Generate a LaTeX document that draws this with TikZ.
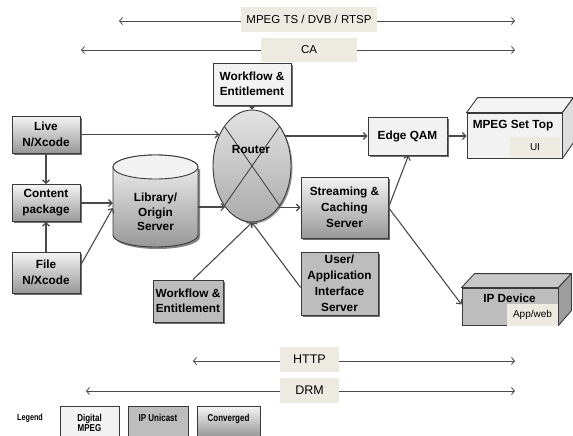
\documentclass[tikz,border=0pt]{standalone}
\usepackage{fontspec}
\setmainfont{Liberation Sans}
\newfontfamily\narrowfont{Liberation Sans}[FakeStretch=0.8]
\usetikzlibrary{shapes.geometric,shadows,arrows.meta}
\definecolor{bd}{HTML}{3A3A3A}
\definecolor{ln}{HTML}{4A4A4A}
\definecolor{lightf}{HTML}{F2F2F2}
\definecolor{midf}{HTML}{BDBDBD}
\definecolor{convtop}{HTML}{F4F4F4}
\definecolor{convbot}{HTML}{989898}
\definecolor{labf}{HTML}{EDEBE1}
\definecolor{routtop}{HTML}{E2E2E2}
\definecolor{routbot}{HTML}{ABABAB}
\begin{document}
\begin{tikzpicture}[x=1pt,y=-1pt,
  sz/.style 2 args={minimum width=#1pt,minimum height=#2pt},
  box/.style={draw=bd,line width=0.9pt,align=center,inner sep=1pt,
    font=\bfseries\fontsize{11.8}{16}\selectfont,
    drop shadow={shadow xshift=1.8pt,shadow yshift=-1.8pt,fill=black!80,opacity=0.7}},
  digital/.style={box,fill=lightf},
  unicast/.style={box,fill=midf},
  conv/.style={box,top color=convtop,bottom color=convbot},
  arr/.style={draw=ln,line width=1.1pt,-{Straight Barb[length=3.5pt,width=7pt]}},
  proto/.style={draw=ln,line width=0.8pt,{Straight Barb[length=3pt,width=7pt]}-{Straight Barb[length=3pt,width=7pt]}},
  plabel/.style={fill=labf,inner sep=0pt,font=\fontsize{11.5}{13}\selectfont},
  txt/.style={inner sep=0pt,font=\bfseries\fontsize{11.8}{14.5}\selectfont},
  legbox/.style={draw=bd,line width=0.7pt,align=center,anchor=north,inner sep=0pt,
    font=\narrowfont\bfseries\fontsize{10}{10.5}\selectfont,text depth=0pt}
]
\useasboundingbox[fill=white] (0,0) rectangle (573,436);

% protocol bands
\coordinate (m1) at (119,21); \coordinate (m2) at (515,21);
\draw[proto] (m1) -- (m2);
\node[plabel,sz={136}{25}] (mpeg) at (309,19.5) {MPEG TS / DVB / RTSP};
\coordinate (c1) at (81,50); \coordinate (c2) at (515,50);
\draw[proto] (c1) -- (c2);
\node[plabel,sz={96}{24}] (ca) at (309,50) {CA};
\coordinate (h1) at (193,361); \coordinate (h2) at (515,361);
\draw[proto] (h1) -- (h2);
\node[plabel,sz={59}{25},font=\fontsize{12.5}{14}\selectfont] (http) at (309.5,359.5) {HTTP};
\coordinate (d1) at (86,391); \coordinate (d2) at (515,391);
\draw[proto] (d1) -- (d2);
\node[plabel,sz={59}{25},font=\fontsize{12.5}{14}\selectfont] (drm) at (309.5,390.5) {DRM};

% boxes
\node[digital,sz={78}{42},font=\bfseries\fontsize{11.8}{15}\selectfont] (wft) at (252,84) {Workflow \&\\Entitlement};
\node[conv,sz={68}{37}] (live) at (46,134.5) {Live\\N/Xcode};
\node[conv,sz={68}{37}] (content) at (46,203) {Content\\package};
\node[conv,sz={68}{41}] (file) at (46,272.5) {File\\N/Xcode};

% library cylinder
\node[sz={85}{92},inner sep=0pt] (lib) at (155.5,201) {};
\fill[black!80,opacity=0.6] (115,169) -- (115,237) arc[start angle=180,end angle=360,x radius=42.5pt,y radius=12pt] -- (200,169) -- cycle;
\shade[top color=convtop,bottom color=convbot,draw=bd,line width=0.9pt]
  (113,167) -- (113,235) arc[start angle=180,end angle=360,x radius=42.5pt,y radius=12pt]
  -- (198,167) arc[start angle=0,end angle=180,x radius=42.5pt,y radius=12pt] -- cycle;
\draw[bd,line width=0.9pt,fill=lightf] (155.5,167) ellipse[x radius=42.5pt,y radius=12pt];
\node[txt,align=center] (libtext) at (155.5,212) {Library/\\Origin\\Server};

% router
\node[ellipse,draw=bd,line width=0.9pt,minimum width=78pt,minimum height=112pt,inner sep=0pt,
  top color=routtop,bottom color=routbot,
  drop shadow={shadow xshift=1.5pt,shadow yshift=-1.5pt,fill=black!80,opacity=0.5}] (router) at (252,166) {};
\draw[bd,line width=0.8pt] (router.north west) -- (router.south east)
  (router.north east) -- (router.south west);
\node[txt] (routertext) at (251,149) {Router};

\node[unicast,sz={70}{42},font=\bfseries\fontsize{11.8}{15}\selectfont] (wfb) at (188,301) {Workflow \&\\Entitlement};
\node[digital,sz={79}{38}] (edge) at (407.5,136) {Edge QAM};
\node[conv,sz={87}{61}] (stream) at (344.5,207.5) {Streaming \&\\Caching\\Server};
\node[unicast,sz={77}{63}] (user) at (339.5,283.5) {User/\\Application\\Interface\\Server};

% set top (3D)
\node[draw=bd,fill=lightf,line width=0.9pt,sz={95}{45},inner sep=0pt] (settop) at (514.5,135.5) {};
\filldraw[draw=bd,line width=0.9pt,fill=white!96!black,line join=round]
  (settop.north west) -- ++(11,-15) -- ++(95,0) -- ([xshift=11pt,yshift=15pt]settop.north east) -- (settop.north east) -- cycle;
\filldraw[draw=bd,line width=0.9pt,fill=black!13,line join=round]
  (settop.north east) -- ++(11,-15) -- ++(0,45) -- (settop.south east) -- cycle;
\node[txt] (settoptext) at (513,126) {MPEG Set Top};
\node[plabel,sz={50}{20},font=\fontsize{10}{12}\selectfont] (ui) at (535,147) {UI};

% IP device (3D)
\node[draw=bd,fill=midf,line width=0.9pt,sz={96}{37},inner sep=0pt] (ipdev) at (510,306.5) {};
\filldraw[draw=bd,line width=0.9pt,fill=black!22,line join=round]
  (ipdev.north west) -- ++(13,-14) -- ++(96,0) -- ([xshift=13pt,yshift=14pt]ipdev.north east) -- (ipdev.north east) -- cycle;
\filldraw[draw=bd,line width=0.9pt,fill=black!38,line join=round]
  (ipdev.north east) -- ++(13,-14) -- ++(0,37) -- (ipdev.south east) -- cycle;
\node[txt] (ipdevtext) at (509.5,298) {IP Device};
\node[plabel,sz={51}{22},font=\fontsize{10}{12}\selectfont] (appweb) at (532.5,315) {App/web};

% connectors
\draw[arr] (live.east) -- (live.east -| router.136);
\draw[arr] (edge.west -| router.43) -- (edge.west);
\draw[arr] (edge.east) -- (settop.west |- edge.east);
\draw[arr] (live.south) -- (content.north);
\draw[arr] (file.north) -- (content.south);
\draw[arr] (content.east) -- (content.east -| lib.west);
\draw[arr] ([yshift=7pt]file.east) -- ([yshift=-7pt]lib.west);
\draw[arr] ([yshift=-6pt]lib.east) -- ([yshift=-6pt]lib.east -| router.237);
\draw[arr] (wft.south) -- (router.north);
\draw[arr] (stream.west -| router.303) -- (stream.west);
\draw[arr] ([xshift=5pt]wfb.north) -- (router.south);
\draw[arr] ([yshift=-4pt]user.west) -- (router.south);
\draw[arr] (stream.east) -- ([xshift=1pt]edge.south);
\draw[arr] (stream.east) -- ([yshift=2pt]ipdev.west);

% legend
\node[inner sep=0pt,font=\narrowfont\bfseries\fontsize{9}{10}\selectfont] (legend) at (30,418) {Legend};
\node[legbox,fill=lightf,minimum width=59pt,minimum height=30pt] (lgd) at (89.5,406) {\rule{0pt}{10pt}Digital\\MPEG};
\node[legbox,fill=midf,minimum width=60pt,minimum height=30pt] (lgi) at (158,406) {\rule{0pt}{10pt}IP Unicast\\\strut};
\node[legbox,top color=convtop,bottom color=convbot,minimum width=63pt,minimum height=30pt] (lgc) at (228.5,406) {\rule{0pt}{10pt}Converged\\\strut};
\end{tikzpicture}
\end{document}
